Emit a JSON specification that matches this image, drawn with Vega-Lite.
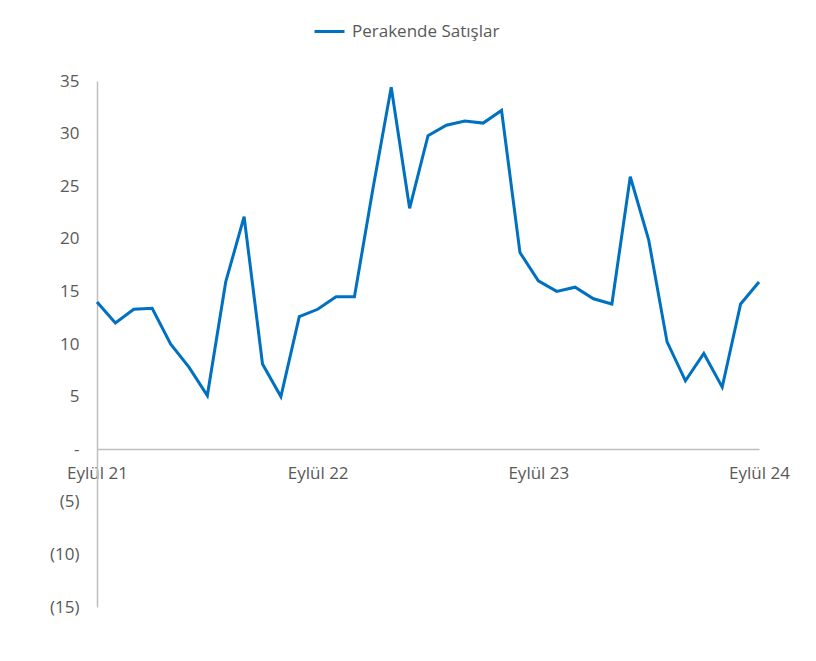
{
  "$schema": "https://vega.github.io/schema/vega-lite/v6.json",
  "width": 662,
  "height": 526,
  "autosize": {"type": "none"},
  "padding": {"left": 97, "top": 81, "right": 57, "bottom": 54},
  "background": "white",
  "config": {"view": {"stroke": null}, "font": "Open Sans"},
  "data": {"values": [
    {"month": "2021-09", "value": 14.0, "series": "Perakende Satışlar"},
    {"month": "2021-10", "value": 12.0, "series": "Perakende Satışlar"},
    {"month": "2021-11", "value": 13.3, "series": "Perakende Satışlar"},
    {"month": "2021-12", "value": 13.4, "series": "Perakende Satışlar"},
    {"month": "2022-01", "value": 10.0, "series": "Perakende Satışlar"},
    {"month": "2022-02", "value": 7.8, "series": "Perakende Satışlar"},
    {"month": "2022-03", "value": 5.1, "series": "Perakende Satışlar"},
    {"month": "2022-04", "value": 15.9, "series": "Perakende Satışlar"},
    {"month": "2022-05", "value": 22.1, "series": "Perakende Satışlar"},
    {"month": "2022-06", "value": 8.1, "series": "Perakende Satışlar"},
    {"month": "2022-07", "value": 5.0, "series": "Perakende Satışlar"},
    {"month": "2022-08", "value": 12.6, "series": "Perakende Satışlar"},
    {"month": "2022-09", "value": 13.3, "series": "Perakende Satışlar"},
    {"month": "2022-10", "value": 14.5, "series": "Perakende Satışlar"},
    {"month": "2022-11", "value": 14.5, "series": "Perakende Satışlar"},
    {"month": "2022-12", "value": 24.7, "series": "Perakende Satışlar"},
    {"month": "2023-01", "value": 34.4, "series": "Perakende Satışlar"},
    {"month": "2023-02", "value": 22.9, "series": "Perakende Satışlar"},
    {"month": "2023-03", "value": 29.8, "series": "Perakende Satışlar"},
    {"month": "2023-04", "value": 30.8, "series": "Perakende Satışlar"},
    {"month": "2023-05", "value": 31.2, "series": "Perakende Satışlar"},
    {"month": "2023-06", "value": 31.0, "series": "Perakende Satışlar"},
    {"month": "2023-07", "value": 32.2, "series": "Perakende Satışlar"},
    {"month": "2023-08", "value": 18.7, "series": "Perakende Satışlar"},
    {"month": "2023-09", "value": 16.0, "series": "Perakende Satışlar"},
    {"month": "2023-10", "value": 15.0, "series": "Perakende Satışlar"},
    {"month": "2023-11", "value": 15.4, "series": "Perakende Satışlar"},
    {"month": "2023-12", "value": 14.3, "series": "Perakende Satışlar"},
    {"month": "2024-01", "value": 13.8, "series": "Perakende Satışlar"},
    {"month": "2024-02", "value": 25.9, "series": "Perakende Satışlar"},
    {"month": "2024-03", "value": 19.9, "series": "Perakende Satışlar"},
    {"month": "2024-04", "value": 10.2, "series": "Perakende Satışlar"},
    {"month": "2024-05", "value": 6.5, "series": "Perakende Satışlar"},
    {"month": "2024-06", "value": 9.1, "series": "Perakende Satışlar"},
    {"month": "2024-07", "value": 5.9, "series": "Perakende Satışlar"},
    {"month": "2024-08", "value": 13.8, "series": "Perakende Satışlar"},
    {"month": "2024-09", "value": 15.9, "series": "Perakende Satışlar"}
  ]},
  "mark": {"type": "line", "strokeWidth": 3, "strokeJoin": "miter"},
  "encoding": {
    "x": {
      "field": "month",
      "type": "ordinal",
      "sort": null,
      "scale": {"type": "point", "padding": 0},
      "axis": {
        "title": null,
        "offset": -158,
        "values": ["2021-09", "2022-09", "2023-09", "2024-09"],
        "labelExpr": "'Eylül ' + slice(datum.value, 2, 4)",
        "labelAngle": 0,
        "labelFontSize": 17,
        "labelColor": "#595959",
        "labelPadding": 16,
        "ticks": false,
        "domainColor": "#BFBFBF",
        "domainWidth": 1.5,
        "grid": false
      }
    },
    "y": {
      "field": "value",
      "type": "quantitative",
      "scale": {"domain": [-15, 35], "nice": false, "zero": false},
      "axis": {
        "title": null,
        "values": [-15, -10, -5, 0, 5, 10, 15, 20, 25, 30, 35],
        "labelExpr": "datum.value < 0 ? '(' + abs(datum.value) + ')' : (datum.value == 0 ? '-\u00a0\u00a0\u00a0\u00a0\u00a0' : datum.value + '\u00a0')",
        "labelFontSize": 17,
        "labelColor": "#595959",
        "labelPadding": 18,
        "ticks": false,
        "grid": false,
        "domainColor": "#BFBFBF",
        "domainWidth": 1.5
      }
    },
    "color": {
      "field": "series",
      "type": "nominal",
      "scale": {"range": ["#0070C0"]},
      "legend": {
        "title": null,
        "orient": "none",
        "legendX": 216,
        "legendY": -66,
        "symbolType": "stroke",
        "symbolSize": 900,
        "symbolStrokeWidth": 3,
        "labelFontSize": 17,
        "labelColor": "#595959",
        "labelOffset": 6
      }
    }
  }
}
